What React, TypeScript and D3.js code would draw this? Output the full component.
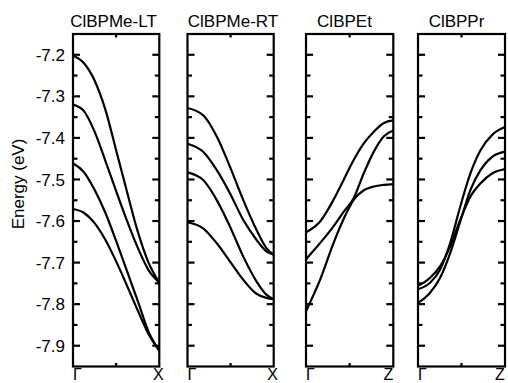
import React from "react";
import * as d3 from "d3";

// ---------- data ----------
const titles = ["ClBPMe-LT", "ClBPMe-RT", "ClBPEt", "ClBPPr"];
const endLabels = ["X", "X", "Z", "Z"];
const yTickLabels = [-7.2, -7.3, -7.4, -7.5, -7.6, -7.7, -7.8, -7.9];

// Panel 1: ClBPMe-LT  (k from Γ=0 to X=1, energy eV)
const ltK = [0, 0.125, 0.25, 0.375, 0.5, 0.625, 0.75, 0.875, 1];
const ltBand1 = [-7.202, -7.22, -7.262, -7.332, -7.43, -7.529, -7.625, -7.7, -7.748];
const ltBand2 = [-7.32, -7.335, -7.385, -7.455, -7.528, -7.599, -7.664, -7.718, -7.748];
const ltBand3 = [-7.461, -7.482, -7.525, -7.58, -7.648, -7.72, -7.792, -7.866, -7.912];
const ltBand4 = [-7.571, -7.58, -7.605, -7.645, -7.697, -7.755, -7.815, -7.872, -7.912];

// Panel 2: ClBPMe-RT
const rtK = [0, 0.185, 0.338, 0.492, 0.646, 0.8, 0.915, 1];
const rtBand1 = [-7.328, -7.346, -7.396, -7.469, -7.549, -7.621, -7.665, -7.681];
const rtBand2 = [-7.414, -7.434, -7.477, -7.533, -7.597, -7.645, -7.673, -7.681];
const rtBand3 = [-7.483, -7.502, -7.549, -7.613, -7.685, -7.745, -7.777, -7.788];
const rtBand4 = [-7.603, -7.618, -7.653, -7.697, -7.741, -7.775, -7.785, -7.788];

// Panel 3: ClBPEt
const etK = [0, 0.162, 0.315, 0.431, 0.546, 0.662, 0.777, 0.892, 1];
const etBand1 = [-7.627, -7.601, -7.549, -7.501, -7.453, -7.413, -7.385, -7.364, -7.358];
const etBand2 = [-7.692, -7.653, -7.613, -7.578, -7.545, -7.485, -7.433, -7.396, -7.382];
const etBand3 = [-7.817, -7.741, -7.653, -7.595, -7.549, -7.526, -7.517, -7.513, -7.511];

// Panel 4: ClBPPr
const prK = [0, 0.136, 0.253, 0.37, 0.486, 0.603, 0.72, 0.856, 1];
const prBand1 = [-7.756, -7.737, -7.709, -7.661, -7.597, -7.541, -7.509, -7.485, -7.475];
const prBand2 = [-7.764, -7.749, -7.717, -7.653, -7.565, -7.485, -7.429, -7.392, -7.374];
const prBand3 = [-7.797, -7.773, -7.737, -7.677, -7.601, -7.525, -7.477, -7.445, -7.433];

const zip = (k: number[], e: number[]): [number, number][] => k.map((v, i) => [v, e[i]]);

const panelBands: [number, number][][][] = [
  [zip(ltK, ltBand1), zip(ltK, ltBand2), zip(ltK, ltBand3), zip(ltK, ltBand4)],
  [zip(rtK, rtBand1), zip(rtK, rtBand2), zip(rtK, rtBand3), zip(rtK, rtBand4)],
  [zip(etK, etBand1), zip(etK, etBand2), zip(etK, etBand3)],
  [zip(prK, prBand1), zip(prK, prBand2), zip(prK, prBand3)],
];

// ---------- layout ----------
const W = 508;
const H = 383;
const panelX: [number, number][] = [[73, 159.3], [187.5, 273.7], [306, 393.3], [418, 505]];
const titleCenters = [113.5, 233, 344.5, 456.5];
const top = 34;
const bottom = 366.5;
const FONT = "'Liberation Sans', Arial, Helvetica, sans-serif";
const FS = 17;
const SW = 2.2;

const y = d3.scaleLinear().domain([-7.95, -7.15]).range([bottom, top]);
const allTicks = d3.range(0, 15).map((i) => +(-7.2 - 0.05 * i).toFixed(2));

export default function App() {
  return (
    <svg
      width={W}
      height={H}
      style={{ position: "absolute", left: 0, top: 0, background: "#fff" }}
      fontFamily={FONT}
    >
      {panelX.map(([l, r], p) => {
        const x = d3.scaleLinear().domain([0, 1]).range([l, r]);
        const line = d3
          .line<[number, number]>()
          .x((d) => x(d[0]))
          .y((d) => y(d[1]))
          .curve(d3.curveMonotoneX);
        const mid = x(0.5);
        return (
          <g key={p}>
            {panelBands[p].map((b, i) => (
              <path key={i} d={line(b) || ""} fill="none" stroke="#000" strokeWidth={SW} />
            ))}
            {allTicks.map((t, i) => {
              const len = i % 2 === 0 ? 7 : 4.5;
              return (
                <g key={i}>
                  <line x1={l} x2={l + len} y1={y(t)} y2={y(t)} stroke="#000" strokeWidth={SW} />
                  <line x1={r} x2={r - len} y1={y(t)} y2={y(t)} stroke="#000" strokeWidth={SW} />
                </g>
              );
            })}
            <line x1={mid} x2={mid} y1={top} y2={top + 3.5} stroke="#000" strokeWidth={SW} />
            <line x1={mid} x2={mid} y1={bottom} y2={bottom - 3.5} stroke="#000" strokeWidth={SW} />
            <rect x={l} y={top} width={r - l} height={bottom - top} fill="none" stroke="#000" strokeWidth={SW} />
            <text x={titleCenters[p]} y={27} fontSize={FS} textAnchor="middle">
              {titles[p]}
            </text>
            <text x={l} y={379.5} fontSize={16} textAnchor="start">
              Γ
            </text>
            <text x={endLabels[p] === "X" ? r - 1 : r - 5} y={379.5} fontSize={16} textAnchor="middle">
              {endLabels[p]}
            </text>
          </g>
        );
      })}
      {yTickLabels.map((t) => (
        <text key={t} x={65} y={y(t)} dy="0.36em" fontSize={FS} textAnchor="end">
          {t.toFixed(1)}
        </text>
      ))}
      <text transform="translate(24,184) rotate(-90)" fontSize={FS} textAnchor="middle">
        Energy (eV)
      </text>
    </svg>
  );
}
